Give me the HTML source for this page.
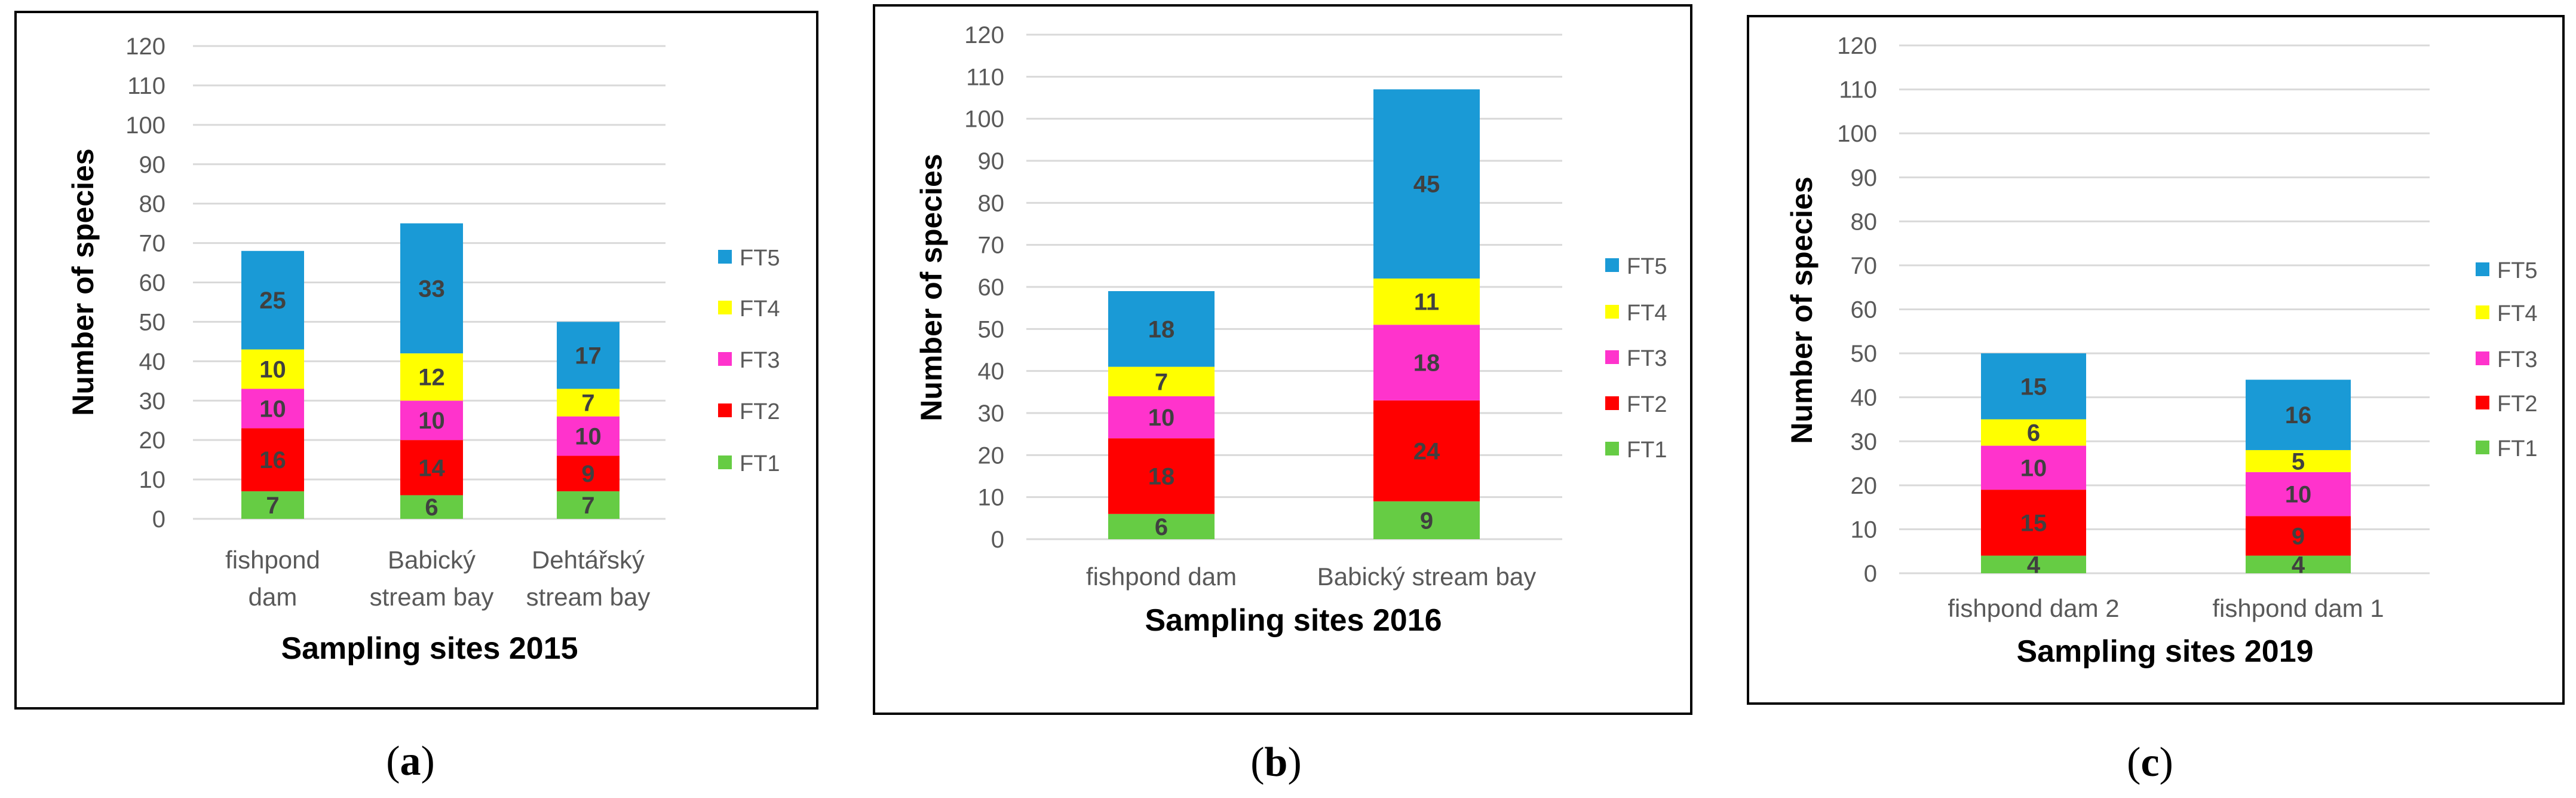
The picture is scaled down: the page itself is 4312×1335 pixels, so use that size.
<!DOCTYPE html>
<html><head><meta charset="utf-8"><style>
html,body{margin:0;padding:0;background:#fff;}
svg{display:block;}
text{font-family:"Liberation Sans",sans-serif;}
</style></head><body>
<svg id="fig" width="4312" height="1335" viewBox="0 0 4312 1335" xmlns="http://www.w3.org/2000/svg"></svg>
<script>
const seriesNames = ["FT1","FT2","FT3","FT4","FT5"];
const seriesColors = ["#66cc44","#ff0000","#ff33cc","#ffff00","#1a9ad6"];
const yTicks = [0,10,20,30,40,50,60,70,80,90,100,110,120];

const catsA = [["fishpond","dam"],["Babický","stream bay"],["Dehtářský","stream bay"]];
const ft1A = [7,6,7];
const ft2A = [16,14,9];
const ft3A = [10,10,10];
const ft4A = [10,12,7];
const ft5A = [25,33,17];

const catsB = [["fishpond dam"],["Babický stream bay"]];
const ft1B = [6,9];
const ft2B = [18,24];
const ft3B = [10,18];
const ft4B = [7,11];
const ft5B = [18,45];

const catsC = [["fishpond dam 2"],["fishpond dam 1"]];
const ft1C = [4,4];
const ft2C = [15,9];
const ft3C = [10,10];
const ft4C = [6,5];
const ft5C = [15,16];

const NS = "http://www.w3.org/2000/svg";
const svg = document.getElementById("fig");
function mk(tag, attrs, parent, txt){
  const e = document.createElementNS(NS, tag);
  for (const k in attrs) e.setAttribute(k, attrs[k]);
  if (txt !== undefined) e.textContent = txt;
  (parent||svg).appendChild(e);
  return e;
}

function panel(p){
  const g = mk("g", {});
  
  
  const fr = mk("rect", {x:p.fx, y:p.fy, width:p.fw, height:p.fh, fill:"#fff", stroke:"#000", "stroke-width":4}, g);
  
  
  const y = v => p.y0 - (v/120)*(p.y0 - p.y120);
  yTicks.forEach(t=>{
    const l = mk("line", {x1:p.gx0, x2:p.gx1, y1:y(t), y2:y(t), stroke:"#d9d9d9", "stroke-width":3}, g);
    
    
    const tx = mk("text", {x:p.tickR, y:y(t)+14, "text-anchor":"end", "font-size":40, fill:"#595959"}, g, String(t));
    
    
  });
  const series = [p.s1,p.s2,p.s3,p.s4,p.s5];
  p.cats.forEach((c,i)=>{
    const cx = p.barX[i] + p.barW/2;
    let acc = 0;
    series.forEach((s,k)=>{
      const v = s[i];
      const r = mk("rect", {x:p.barX[i], y:y(acc+v), width:p.barW, height:y(acc)-y(acc+v), fill:seriesColors[k]}, g);
      
      
      const lt = mk("text", {x:cx, y:(y(acc)+y(acc+v))/2+14, "text-anchor":"middle", "font-size":40, fill:"#404040", "font-weight":"bold"}, g, String(v));
      
      
      acc += v;
    });
    c.forEach((line,j)=>{
      const ct = mk("text", {x:cx, y:p.catY + j*62 + 15, "text-anchor":"middle", "font-size":42, fill:"#595959"}, g, line);
      
      
    });
  });
  const xt = mk("text", {x:p.titleX, y:p.titleY+19, "text-anchor":"middle", "font-size":52, "font-weight":"bold", fill:"#000"}, g, p.title);
  
  
  const yt = mk("text", {x:0, y:0, "text-anchor":"middle", "font-size":50, "font-weight":"bold", fill:"#000", transform:"translate("+(p.ytX+18)+","+p.ytY+") rotate(-90)"}, g, "Number of species");
  
  
  for (let k=4;k>=0;k--){
    const ly = p.legY[4-k];
    const sq = mk("rect", {x:p.legX, y:ly-12, width:23, height:23, fill:seriesColors[k]}, g);
    
    
    const lt = mk("text", {x:p.legX+36, y:ly+14, "font-size":38, fill:"#595959"}, g, seriesNames[k]);
    
    
  }
  const cap = mk("text", {x:p.capX, y:p.capY+24, "text-anchor":"middle", "font-size":70, fill:"#000", style:"font-family:'Liberation Serif',serif"}, g);
  
  
  mk("tspan", {}, cap, "(");
  mk("tspan", {"font-weight":"bold"}, cap, p.id);
  mk("tspan", {}, cap, ")");
}

panel({id:"a", fx:26, fy:20, fw:1342, fh:1165, gx0:323, gx1:1114, y0:868, y120:77, tickR:277,
  cats:catsA, s1:ft1A, s2:ft2A, s3:ft3A, s4:ft4A, s5:ft5A, barX:[404,670,932], barW:105,
  catY:936, titleX:719, titleY:1083, title:"Sampling sites 2015", ytX:138, ytY:472,
  legX:1202, legY:[430,515,601,687,774], capX:687, capY:1272});
panel({id:"b", fx:1463, fy:9, fw:1368, fh:1185, gx0:1718, gx1:2615, y0:902, y120:58, tickR:1681,
  cats:catsB, s1:ft1B, s2:ft2B, s3:ft3B, s4:ft4B, s5:ft5B, barX:[1855,2299], barW:178,
  catY:964, titleX:2165, titleY:1036, title:"Sampling sites 2016", ytX:1558, ytY:481,
  legX:2687, legY:[444,522,598,675,751], capX:2136, capY:1274});
panel({id:"c", fx:2926, fy:27, fw:1365, fh:1150, gx0:3179, gx1:4067, y0:959, y120:76, tickR:3142,
  cats:catsC, s1:ft1C, s2:ft2C, s3:ft3C, s4:ft4C, s5:ft5C, barX:[3316,3759], barW:176,
  catY:1017, titleX:3624, titleY:1088, title:"Sampling sites 2019", ytX:3015, ytY:519,
  legX:4144, legY:[451,523,600,674,749], capX:3599, capY:1274});
</script>
</body></html>
